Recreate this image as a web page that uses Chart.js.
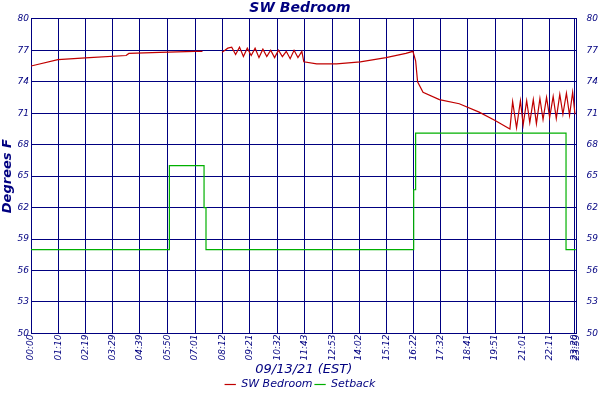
<!DOCTYPE html>
<html>
<head>
<meta charset="utf-8">
<script src="https://cdn.jsdelivr.net/npm/chart.js@4"></script>
<style>
  body { margin: 0; background: #fff; }
  #wrap { width: 600px; height: 400px; }
</style>
</head>
<body>
<div id="wrap"><canvas id="chart"></canvas></div>
<script>
// --- Data (x = minutes of the day, as plotted) ---
const tickMinutes = [0, 70, 139, 209, 279, 350, 421, 492, 561, 632, 703, 773, 842, 912, 982, 1052, 1121, 1191, 1261, 1331, 1396, 1400];
const tickLabels = ['00:00', '01:10', '02:19', '03:29', '04:39', '05:50', '07:01', '08:12', '09:21', '10:32', '11:43', '12:53', '14:02', '15:12', '16:22', '17:32', '18:41', '19:51', '21:01', '22:11', '23:20', '23:59'];
const yTicks = [50, 53, 56, 59, 62, 65, 68, 71, 74, 77, 80];

const roomX = [0, 69, 150, 244, 251, 330, 421, 440, null, 490, 505, 515, 525, 535, 545, 555, 565, 575, 585, 595, 605, 615, 625, 635, 645, 655, 665, 675, 685, 695, 700, 733, 784, 845, 911, 962, 980, 987, 992, 1006, 1048, 1099, 1150, 1191, 1229, 1236, 1246, 1256, 1263, 1272, 1280, 1289, 1297, 1306, 1314, 1323, 1331, 1340, 1348, 1357, 1365, 1374, 1382, 1390, 1396];
const roomY = [75.5, 76.1, 76.3, 76.5, 76.7, 76.8, 76.9, 76.9, null, 76.8, 77.2, 77.3, 76.6, 77.3, 76.4, 77.2, 76.5, 77.2, 76.3, 77.1, 76.4, 77.0, 76.3, 77.0, 76.4, 76.9, 76.2, 77.0, 76.3, 76.9, 75.9, 75.7, 75.7, 75.9, 76.3, 76.7, 76.9, 76.0, 74.0, 73.0, 72.3, 71.9, 71.1, 70.3, 69.5, 72.1, 69.6, 72.2, 69.9, 72.2, 70.1, 72.3, 70.0, 72.4, 70.4, 72.5, 70.6, 72.6, 70.5, 72.8, 70.9, 72.9, 70.8, 73.0, 70.9];

const setbackX = [0, 355, 355, 444, 444, 449, 449, 982, 982, 987, 987, 1373, 1373, 1398];
const setbackY = [58, 58, 66, 66, 62, 62, 58, 58, 63.7, 63.7, 69.1, 69.1, 58, 58];

const navy = '#000080';
const font = { family: 'DejaVu Sans', style: 'italic', size: 9 };

const toPoints = (xs, ys) => xs.map((x, i) => ({ x: x, y: ys[i] }));

new Chart(document.getElementById('chart'), {
    type: 'line',
    data: {
        datasets: [{
            label: 'SW Bedroom',
            data: toPoints(roomX, roomY),
            borderColor: '#c00000',
            backgroundColor: '#c00000',
            borderWidth: 1.2,
            pointRadius: 0,
            spanGaps: false
        }, {
            label: 'Setback',
            data: toPoints(setbackX, setbackY),
            borderColor: '#00b000',
            backgroundColor: '#00b000',
            borderWidth: 1.2,
            pointRadius: 0
        }]
    },
    options: {
        animation: false,
        responsive: true,
        maintainAspectRatio: false,
        layout: { padding: { left: 0, right: 0, top: 0, bottom: 0 } },
        plugins: {
            title: {
                display: true, text: 'SW Bedroom', color: navy,
                font: { family: 'DejaVu Sans', style: 'italic', weight: 'bold', size: 14 },
                padding: { top: 0, bottom: 2 }
            },
            legend: {
                position: 'bottom',
                labels: {
                    color: navy, font: { family: 'DejaVu Sans', style: 'italic', size: 11 },
                    usePointStyle: true, pointStyle: 'line', boxWidth: 14, boxHeight: 8, padding: 2
                }
            },
            tooltip: { enabled: false }
        },
        scales: {
            x: {
                type: 'linear', min: 0, max: 1400,
                afterBuildTicks: axis => { axis.ticks = tickMinutes.map(v => ({ value: v })); },
                ticks: {
                    color: navy, font: font, autoSkip: false, maxRotation: 90, minRotation: 90, padding: 1,
                    callback: (v) => tickLabels[tickMinutes.indexOf(v)]
                },
                grid: { color: navy, lineWidth: 1, drawTicks: false },
                border: { color: navy },
                title: { display: true, text: '09/13/21 (EST)', color: navy, font: { family: 'DejaVu Sans', style: 'italic', size: 13 }, padding: 0 }
            },
            y: {
                min: 50, max: 80,
                afterBuildTicks: axis => { axis.ticks = yTicks.map(v => ({ value: v })); },
                ticks: { color: navy, font: font, padding: 2 },
                grid: { color: navy, lineWidth: 1, drawTicks: false },
                border: { color: navy },
                title: { display: true, text: 'Degrees F', color: navy, font: { family: 'DejaVu Sans', style: 'italic', weight: 'bold', size: 13 }, padding: 0 }
            },
            y2: {
                position: 'right', min: 50, max: 80,
                afterBuildTicks: axis => { axis.ticks = yTicks.map(v => ({ value: v })); },
                ticks: { color: navy, font: font, padding: 2 },
                grid: { display: false },
                border: { color: navy }
            }
        }
    }
});
</script>
</body>
</html>
